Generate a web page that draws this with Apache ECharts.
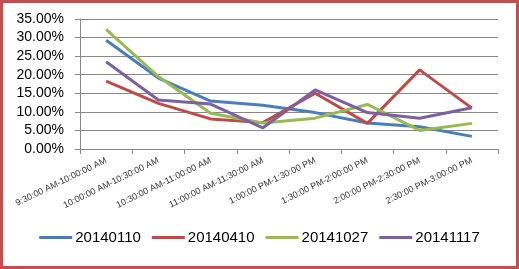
<!DOCTYPE html>
<html><head><meta charset="utf-8">
<script src="https://cdn.jsdelivr.net/npm/echarts@6/dist/echarts.min.js"></script>
<style>html,body{margin:0;padding:0;background:#fff}#c{width:519px;height:269px}</style>
</head><body><div id="c"></div>
<script>
const categories = ["9:30:00 AM-10:00:00 AM","10:00:00 AM-10:30:00 AM","10:30:00 AM-11:00:00 AM","11:00:00 AM-11:30:00 AM","1:00:00 PM-1:30:00 PM","1:30:00 PM-2:00:00 PM","2:00:00 PM-2:30:00 PM","2:30:00 PM-3:00:00 PM"];
const seriesNames = ["20140110","20140410","20141027","20141117"];
const s20140110 = [0.293,0.191,0.129,0.118,0.098,0.070,0.060,0.034];
const s20140410 = [0.183,0.123,0.081,0.071,0.150,0.069,0.213,0.110];
const s20141027 = [0.322,0.195,0.096,0.070,0.083,0.120,0.050,0.069];
const s20141117 = [0.235,0.132,0.121,0.057,0.159,0.098,0.083,0.111];
const yTicks = {min:0, max:0.35, interval:0.05};
const colors = ["#4A7EBB","#BE4B48","#98B954","#7D60A0"];
const data = [s20140110,s20140410,s20141027,s20141117];

const chart = echarts.init(document.getElementById('c'));
chart.setOption({
  animation:false,
  backgroundColor:'#fff',
  color: colors,
  graphic:[{type:'rect',shape:{x:1.5,y:1.5,width:516,height:266},style:{fill:'none',stroke:'#C0504D',lineWidth:3},z:100}],
  grid:{left:80,right:21,top:19,bottom:120},
  legend:{
    bottom:19, left:'center', itemWidth:33, itemHeight:3, itemGap:11,
    icon:'rect',
    textStyle:{fontFamily:'Liberation Sans',fontSize:15,color:'#000',padding:[0,0,0,-2]},
    data: seriesNames
  },
  xAxis:{
    type:'category', data:categories, boundaryGap:true,
    axisLine:{lineStyle:{color:'#888',width:1}},
    axisTick:{show:true,length:5,lineStyle:{color:'#888'}},
    axisLabel:{rotate:26,fontFamily:'Liberation Sans',fontSize:9,color:'#333',margin:11,interval:0}
  },
  yAxis:{
    type:'value', min:yTicks.min, max:yTicks.max, interval:yTicks.interval,
    axisLine:{show:true,lineStyle:{color:'#888'}},
    axisTick:{show:true,length:5,lineStyle:{color:'#888'}},
    splitLine:{lineStyle:{color:'#888',width:1}},
    axisLabel:{fontFamily:'Liberation Sans',fontSize:14,color:'#000',margin:16,
      formatter:v=>(v*100).toFixed(2)+'%'}
  },
  series: seriesNames.map((n,i)=>({
    name:n, type:'line', data:data[i], symbol:'none',
    lineStyle:{width:3,color:colors[i]}, itemStyle:{color:colors[i]}
  }))
});
</script></body></html>
